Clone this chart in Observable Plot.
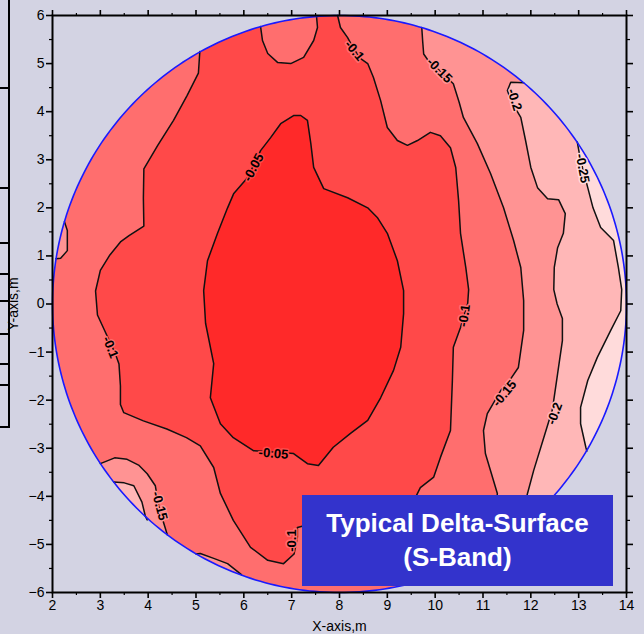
<!DOCTYPE html>
<html><head><meta charset="utf-8">
<script src="https://cdn.jsdelivr.net/npm/d3@7"></script>
<script src="https://cdn.jsdelivr.net/npm/@observablehq/plot@0.6"></script>
<style>
body{margin:0;background:#d3d3e3;}
#wrap{position:relative;width:644px;height:634px;overflow:hidden;font-family:"Liberation Sans",Arial,sans-serif;background:#d3d3e3;}
#wrap svg{position:absolute;left:0;top:0;}
.title{position:absolute;left:302px;top:495px;width:311px;height:91px;background:#3333cc;color:#fff;font-weight:bold;font-size:26px;text-align:center;line-height:34px;padding-top:11px;box-sizing:border-box;}
.deco{position:absolute;background:#000;}
</style></head>
<body><div id="wrap"></div>
<script>
// ---- axis ticks ----
const xTicks = [2,3,4,5,6,7,8,9,10,11,12,13,14];
const xMinor = [2.5,3.5,4.5,5.5,6.5,7.5,8.5,9.5,10.5,11.5,12.5,13.5];
const yTicks = [-6,-5,-4,-3,-2,-1,0,1,2,3,4,5,6];
const yMinor = [-5.5,-4.5,-3.5,-2.5,-1.5,-0.5,0.5,1.5,2.5,3.5,4.5,5.5];

// ---- wafer outline (center x, center y, radius in m) ----
const wafer = [8, 0, 6];

// ---- level colours ----
const levels = ["> -0.05", "-0.05..-0.1", "-0.1..-0.15", "-0.15..-0.2", "-0.2..-0.25", "< -0.25"];
const levelFill = ["#ff2929", "#ff4949", "#ff6e6e", "#ff9393", "#ffb7b7", "#ffdbdb"];

// ---- traced contour lines (x, y in m) ----
const c010Left = [[5.08,5.25],[5.05,4.8],[4.81,4.33],[4.53,3.82],[4.2,3.3],[3.91,2.81],[3.9,2.2],[3.91,1.62],[3.6,1.42],[3.42,1.29],[3.2,1.02],[3.0,0.70],[2.9,0.27],[2.94,-0.23],[3.14,-0.66],[3.3,-1.0],[3.39,-1.25],[3.42,-1.7],[3.42,-2.09],[3.49,-2.26],[3.9,-2.43],[4.39,-2.6],[4.8,-2.78],[5.09,-2.95],[5.37,-3.4],[5.51,-3.94],[5.78,-4.5],[6.14,-5.06],[6.5,-5.33],[6.83,-5.4],[7.05,-5.2],[7.12,-4.85],[7.12,-4.65],[7.3,-4.6]];
const c010Right = [[7.96,6.0],[8.02,5.75],[8.17,5.54],[8.3,5.3],[8.45,5.1],[8.59,5.0],[8.71,4.71],[8.86,4.23],[9.0,3.67],[9.21,3.4],[9.42,3.3],[9.63,3.4],[9.9,3.57],[10.11,3.5],[10.32,3.25],[10.43,2.84],[10.49,2.15],[10.53,1.47],[10.64,0.76],[10.7,0.3],[10.68,0.01],[10.53,-0.49],[10.38,-0.9],[10.36,-1.59],[10.32,-2.63],[10.11,-3.19],[9.97,-3.6],[9.69,-3.82],[9.6,-4.0],[9.2,-4.5],[8.7,-4.95],[8.2,-5.1],[7.7,-4.85],[7.3,-4.6]];
const c010Top = [[6.35,5.77],[6.39,5.48],[6.5,5.21],[6.71,5.02],[6.98,5.0],[7.25,5.13],[7.46,5.48],[7.54,5.75],[7.52,5.98]];
const c005 = [[7.04,3.92],[7.19,3.92],[7.33,3.82],[7.4,3.34],[7.46,2.84],[7.67,2.4],[8.17,2.21],[8.59,2.0],[8.79,1.8],[9.0,1.47],[9.21,0.9],[9.34,0.28],[9.34,-0.2],[9.28,-0.9],[9.13,-1.38],[8.86,-1.95],[8.59,-2.42],[8.23,-2.69],[7.87,-2.98],[7.56,-3.36],[7.33,-3.32],[7.04,-3.11],[6.62,-3.08],[6.2,-3.05],[5.78,-2.78],[5.51,-2.49],[5.3,-1.95],[5.37,-1.24],[5.2,-0.4],[5.16,0.28],[5.24,0.9],[5.45,1.47],[5.66,2.0],[5.79,2.3],[6.08,2.63],[6.35,3.19],[6.56,3.46],[6.77,3.75],[7.04,3.92]];
const c015Right = [[9.72,5.75],[9.74,5.45],[9.76,5.2],[9.9,5.0],[10.09,4.86],[10.38,4.58],[10.5,4.2],[10.59,3.88],[10.88,3.34],[11.16,2.71],[11.43,2.0],[11.64,1.32],[11.79,0.76],[11.85,0.07],[11.85,-0.55],[11.74,-1.32],[11.55,-1.6],[11.37,-1.8],[11.09,-2.28],[11.01,-2.63],[11.05,-3.11],[11.2,-3.61],[11.3,-3.94],[11.25,-4.6],[10.95,-5.22]];
const c020Right = [[11.85,4.6],[11.58,4.61],[11.51,4.44],[11.6,4.2],[11.79,3.88],[11.89,3.4],[12.0,2.84],[12.14,2.42],[12.35,2.19],[12.58,2.17],[12.72,1.88],[12.68,1.47],[12.56,1.17],[12.49,0.76],[12.48,0.3],[12.55,0.0],[12.66,-0.3],[12.66,-0.76],[12.56,-1.45],[12.45,-2.2],[12.27,-2.78],[12.06,-3.46],[11.93,-3.94],[11.85,-4.3],[11.75,-4.68]];
const c025Right = [[12.97,3.37],[13.02,3.1],[13.08,2.84],[13.19,2.42],[13.3,2.0],[13.46,1.59],[13.73,1.32],[13.83,0.76],[13.9,0.3],[13.88,-0.14],[13.67,-0.55],[13.39,-1.11],[13.19,-1.59],[13.04,-2.15],[13.04,-2.49],[13.15,-2.98],[13.17,-3.06]];
const c015BotLeft = [[3.0,-3.32],[3.3,-3.2],[3.56,-3.23],[3.8,-3.35],[3.98,-3.53],[4.15,-3.78],[4.22,-4.2],[4.32,-4.54],[4.4,-4.8]];
const c020BotLeft = [[3.28,-3.7],[3.5,-3.72],[3.7,-3.78],[3.87,-4.12],[3.94,-4.41],[3.98,-4.49]];
const c015Bottom = [[5.0,-5.2],[5.09,-5.19],[5.37,-5.29],[5.66,-5.4],[5.95,-5.63]];
const c015TopLeft = [[2.25,1.71],[2.31,1.53],[2.31,1.11],[2.17,0.95],[2.07,0.94]];

// ---- contour labels ----
const labelText = ["-0.1","-0.15","-0.2","-0.25","-0.05","-0.05","-0.1","-0.1","-0.15","-0.2","-0.15","-0.1"];
const labelX    = [8.31, 10.09, 11.66, 13.08, 6.2, 6.62, 3.21, 10.61, 11.45, 12.5, 4.24, 7.0];
const labelY    = [5.27, 4.86, 4.25, 2.82, 2.84, -3.11, -0.9, -0.24, -1.86, -2.28, -4.2, -4.92];
const labelRot  = [50, 45, 72, 80, -62, 5, 68, -82, -50, -70, 75, -90];
const labelHalo = [2, 3, 4, 5, 1, 1, 2, 2, 3, 4, 3, 2]; // index into levelFill

// ---- geometry helpers ----
const [cx, cy, R] = wafer;
const ang = p => Math.atan2(p[1] - cy, p[0] - cx);
function arc(p0, p1, ccw) {
  let a0 = ang(p0), a1 = ang(p1);
  if (ccw && a1 < a0) a1 += 2 * Math.PI;
  if (!ccw && a1 > a0) a1 -= 2 * Math.PI;
  const n = Math.max(2, Math.ceil(Math.abs(a1 - a0) / 0.02));
  return d3.range(n + 1).map(i => {
    const a = a0 + (a1 - a0) * i / n;
    return [cx + R * Math.cos(a), cy + R * Math.sin(a)];
  });
}
const closeWithEdge = (pts, ccw) => pts.concat(arc(pts[pts.length - 1], pts[0], ccw));
const circlePts = d3.range(0, 361).map(i => [cx + R * Math.cos(i * Math.PI / 180), cy + R * Math.sin(i * Math.PI / 180)]);

const central = closeWithEdge(c010Left.concat(c010Right.slice(0, -1).reverse()), true);

const fills = [
  [circlePts, 2],
  [central, 1],
  [closeWithEdge(c010Top, true), 2],
  [c005, 0],
  [closeWithEdge(c015Right, true), 3],
  [closeWithEdge(c020Right, true), 4],
  [closeWithEdge(c025Right, true), 5],
  [closeWithEdge(c015BotLeft, false), 3],
  [closeWithEdge(c020BotLeft, false), 4],
  [closeWithEdge(c015Bottom, false), 3],
  [closeWithEdge(c015TopLeft, false), 3]
];
const lines = [c010Left, c010Right, c010Top, c005, c015Right, c020Right, c025Right, c015BotLeft, c020BotLeft, c015Bottom, c015TopLeft];

const labels = labelText.map((t, i) => ({t, x: labelX[i], y: labelY[i], r: labelRot[i], h: levelFill[labelHalo[i]]}));

const X = d => d[0], Y = d => d[1];
const plot = Plot.plot({
  width: 644, height: 634,
  marginTop: 15, marginRight: 18, marginBottom: 42, marginLeft: 52,
  x: {domain: [2, 14]},
  y: {domain: [-6, 6]},
  style: {background: "transparent", fontFamily: "'Liberation Sans', Arial, sans-serif", color: "black"},
  marks: [
    ...fills.map(([pts, k]) => Plot.line(pts, {x: X, y: Y, fill: levelFill[k], stroke: "none"})),
    ...lines.map(pts => Plot.line(pts, {x: X, y: Y, stroke: "#111", strokeWidth: 1.5})),
    Plot.line(circlePts, {x: X, y: Y, stroke: "#1a1aff", strokeWidth: 1.6}),
    Plot.text(labels, {x: "x", y: "y", text: "t", rotate: "r", fill: "black", stroke: d => d.h, strokeWidth: 3, fontSize: 13, fontWeight: "bold"}),
    Plot.axisX({ticks: xTicks, anchor: "bottom", tickSize: 6, tickPadding: 2, strokeWidth: 1.6, fontSize: 14, label: "X-axis,m", labelAnchor: "center", labelOffset: 38, labelArrow: "none"}),
    Plot.axisX({ticks: xMinor, anchor: "bottom", tickSize: 3, strokeWidth: 1.2, text: null, label: null}),
    Plot.axisX({ticks: xTicks, anchor: "top", tickSize: 6, strokeWidth: 1.6, text: null, label: null}),
    Plot.axisX({ticks: xMinor, anchor: "top", tickSize: 3, strokeWidth: 1.2, text: null, label: null}),
    Plot.axisY({ticks: yTicks, anchor: "left", tickSize: 6, tickPadding: 2, strokeWidth: 1.6, fontSize: 14, label: "Y-axis,m", labelAnchor: "center", labelOffset: 44, labelArrow: "none"}),
    Plot.axisY({ticks: yMinor, anchor: "left", tickSize: 3, strokeWidth: 1.2, text: null, label: null}),
    Plot.axisY({ticks: yTicks, anchor: "right", tickSize: 6, strokeWidth: 1.6, text: null, label: null}),
    Plot.axisY({ticks: yMinor, anchor: "right", tickSize: 3, strokeWidth: 1.2, text: null, label: null}),
    Plot.frame({stroke: "black", strokeWidth: 2})
  ]
});

const wrap = document.getElementById("wrap");
// decorative slide table at the left edge
const deco = document.createElement("div");
deco.className = "deco"; deco.style.cssText = "left:8px;top:0;width:2px;height:428px;";
wrap.appendChild(deco);
[87,187,242,273,300,333,363,384,426].forEach(t => {
  const d = document.createElement("div");
  d.className = "deco"; d.style.cssText = `left:0;top:${t}px;width:10px;height:2px;`;
  wrap.appendChild(d);
});
wrap.appendChild(plot);
const title = document.createElement("div");
title.className = "title";
title.innerHTML = "Typical Delta-Surface<br>(S-Band)";
wrap.appendChild(title);
</script>
</body></html>
